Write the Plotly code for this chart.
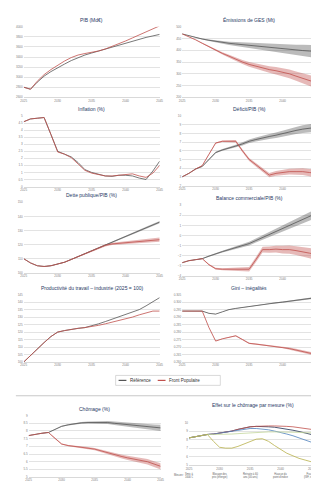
import plotly.graph_objects as go

# ---------------- data ----------------
years = list(range(2025, 2046))
year_ticks = [2025, 2030, 2035, 2040, 2045]

pib_ref = [2800, 2760, 2900, 3020, 3110, 3190, 3260, 3330, 3390, 3440, 3480, 3520, 3560, 3600, 3640, 3680, 3720, 3750, 3790, 3820, 3850]
pib_fp = [2800, 2760, 2920, 3050, 3150, 3240, 3320, 3390, 3440, 3470, 3490, 3520, 3560, 3610, 3660, 3720, 3780, 3840, 3900, 3960, 4020]

ges_ref = [470, 462, 455, 448, 443, 438, 434, 430, 427, 424, 421, 418, 415, 412, 409, 406, 404, 401, 399, 397, 395]
ges_fp = [470, 458, 445, 430, 415, 400, 387, 375, 362, 350, 340, 332, 325, 318, 313, 308, 300, 290, 280, 270, 262]

infl_ref = [4.6, 4.8, 4.85, 4.9, 3.7, 2.5, 2.3, 2.1, 1.7, 1.2, 1.0, 0.85, 0.75, 0.72, 0.8, 0.8, 0.75, 0.6, 0.5, 1.1, 1.8]
infl_fp = [4.6, 4.8, 4.85, 4.9, 3.7, 2.45, 2.3, 2.05, 1.6, 1.15, 0.95, 0.85, 0.75, 0.75, 0.8, 0.9, 0.9, 0.75, 0.65, 0.95, 1.5]

def_ref = [3.0, 3.4, 3.9, 4.2, 5.0, 5.8, 6.1, 6.3, 6.55, 6.8, 7.1, 7.3, 7.5, 7.65, 7.8, 8.0, 8.2, 8.35, 8.5, 8.6, 8.7]
def_fp = [3.0, 3.4, 3.9, 4.3, 5.6, 6.9, 7.1, 7.1, 7.1, 6.0, 5.0, 4.4, 3.8, 3.2, 3.4, 3.5, 3.6, 3.6, 3.6, 3.5, 3.4]

dette_ref = [110, 107, 105, 104.5, 105, 106, 107.5, 109.5, 111.5, 113.5, 115.5, 118, 120, 122, 124, 126, 128, 130, 132, 134, 136]
dette_fp = [110, 107, 105, 104.5, 105, 106, 107.5, 109.5, 111.5, 113.5, 115.5, 117.5, 119.5, 120.5, 121, 121.5, 122, 122.5, 123, 123.5, 123.5]

bal_ref = [-2.7, -2.5, -2.4, -2.3, -2.05, -1.8, -1.6, -1.4, -1.2, -1.0, -0.8, -0.5, -0.2, 0.1, 0.4, 0.7, 1.0, 1.3, 1.6, 1.9, 2.2]
bal_fp = [-2.7, -2.5, -2.4, -2.3, -2.9, -3.3, -3.35, -3.35, -3.35, -3.35, -3.35, -2.4, -1.4, -1.4, -1.35, -1.4, -1.4, -1.5, -1.6, -1.75, -1.9]

prod_ref = [100, 104.5, 109, 113, 117, 120, 121, 122, 122.5, 123, 124, 125.5, 127, 128.5, 130, 131.5, 133, 135, 137.5, 140, 143]
prod_fp = [100, 104.5, 109, 113, 117, 120, 121, 122, 122.5, 123, 123.5, 124.5, 125.5, 126.5, 127.5, 128.5, 130, 131.5, 133, 134, 134]

gini_ref = [0.294, 0.294, 0.294, 0.294, 0.2925, 0.292, 0.2935, 0.295, 0.2958, 0.2965, 0.297, 0.2978, 0.2985, 0.299, 0.2995, 0.300, 0.3006, 0.3012, 0.3018, 0.3024, 0.303]
gini_fp = [0.294, 0.294, 0.294, 0.294, 0.283, 0.274, 0.2755, 0.2767, 0.2775, 0.275, 0.2725, 0.272, 0.2715, 0.271, 0.2705, 0.270, 0.269, 0.268, 0.267, 0.266, 0.265]

chom_ref = [7.7, 7.8, 7.85, 7.9, 8.1, 8.3, 8.4, 8.48, 8.53, 8.55, 8.56, 8.56, 8.55, 8.5, 8.45, 8.4, 8.35, 8.3, 8.27, 8.23, 8.2]
chom_fp = [7.7, 7.8, 7.85, 7.9, 7.5, 7.15, 7.05, 6.98, 6.92, 6.88, 6.82, 6.7, 6.55, 6.45, 6.35, 6.25, 6.18, 6.1, 6.0, 5.85, 5.7]

# uncertainty band profile (share of final half-width)
band_profile = [0, 0.02, 0.05, 0.08, 0.12, 0.16, 0.2, 0.25, 0.3, 0.35, 0.4, 0.45, 0.5, 0.56, 0.62, 0.68, 0.74, 0.8, 0.87, 0.93, 1.0]

# effect by measure
eff_smic = [8.2, 8.35, 8.5, 8.6, 8.65, 8.75, 8.85, 9.0, 9.2, 9.35, 9.5, 9.55, 9.55, 9.5, 9.45, 9.35, 9.25, 9.1, 8.95, 8.8, 8.6]
eff_blocage = [8.2, 8.35, 8.5, 8.6, 8.65, 8.75, 8.85, 9.0, 9.2, 9.35, 9.5, 9.55, 9.6, 9.6, 9.6, 9.6, 9.55, 9.5, 9.4, 9.3, 9.2]
eff_retraite = [8.2, 8.35, 8.5, 8.6, 8.65, 8.75, 8.85, 8.95, 9.1, 9.2, 9.3, 9.3, 9.25, 9.15, 9.0, 8.85, 8.65, 8.45, 8.2, 7.95, 7.7]
eff_salaires = [8.2, 8.35, 8.5, 8.6, 8.6, 8.6, 8.6, 8.65, 8.7, 8.75, 8.8, 8.85, 8.85, 8.9, 8.9, 8.9, 8.9, 8.85, 8.85, 8.8, 8.8]
eff_fiscal = [8.2, 8.35, 8.5, 8.6, 7.8, 7.1, 7.0, 7.0, 7.2, 7.5, 7.8, 8.05, 8.1, 7.8, 7.3, 6.8, 6.4, 6.1, 5.8, 5.6, 5.4]
measure_labels = ["Smic à<br>1600 €", "Blocage des<br>prix (énergie)", "Retraite à 60<br>ans (40 ans)", "Hausse du<br>point d'indice", "Fiscalité<br>(ISF, impôts)"]

series_names = ["Référence", "Front Populaire"]

# ---------------- styling ----------------
W, H = 319, 481
FONT = "Liberation Sans"
REF_LINE = "#555555"
REF_FILL = "rgba(85,85,85,0.40)"
FP_LINE = "#c0504d"
FP_FILL = "rgba(192,80,77,0.40)"
TITLE_COLOR = "#1f3864"
TICK = dict(size=3, color="#808080", family=FONT)

panels = [
    dict(title="PIB (Md€)", ref=pib_ref, fp=pib_fp, rs=0, fs=0, yr=[2600, 4000], dt=200, x=(13, 152), y=(17, 88)),
    dict(title="Émissions de GES (Mt)", ref=ges_ref, fp=ges_fp, rs=28, fs=25, yr=[200, 500], dt=50, x=(175, 312), y=(17, 88)),
    dict(title="Inflation (%)", ref=infl_ref, fp=infl_fp, rs=0, fs=0, yr=[0, 5], dt=0.5, x=(13, 152), y=(107, 178)),
    dict(title="Déficit/PIB (%)", ref=def_ref, fp=def_fp, rs=0.5, fs=0.45, yr=[2, 10], dt=1, x=(175, 312), y=(107, 177)),
    dict(title="Dette publique/PIB (%)", ref=dette_ref, fp=dette_fp, rs=0.8, fs=1.5, yr=[100, 150], dt=10, x=(13, 152), y=(194, 265)),
    dict(title="Balance commerciale/PIB (%)", ref=bal_ref, fp=bal_fp, rs=0.45, fs=0.55, yr=[-4, 3], dt=1, x=(175, 312), y=(197, 268)),
    dict(title="Productivité du travail – industrie (2025 = 100)", ref=prod_ref, fp=prod_fp, rs=0, fs=0, yr=[100, 145], dt=5, x=(13, 152), y=(287, 355)),
    dict(title="Gini – inégalités", ref=gini_ref, fp=gini_fp, rs=0.0006, fs=0.001, yr=[0.26, 0.305], dt=0.005, x=(175, 312), y=(287, 355)),
    dict(title="Chômage (%)", ref=chom_ref, fp=chom_fp, rs=0.2, fs=0.2, yr=[5, 9], dt=0.5, x=(18, 153), y=(409, 471)),
]

fig = go.Figure()
layout = dict(
    width=W, height=H, margin=dict(l=0, r=0, t=0, b=0),
    paper_bgcolor="white", plot_bgcolor="white",
    font=dict(family=FONT, size=4, color="#404040"),
    annotations=[], shapes=[], showlegend=False,
)


def ax_names(i):
    return ("x" if i == 1 else f"x{i}", "y" if i == 1 else f"y{i}",
            "xaxis" if i == 1 else f"xaxis{i}", "yaxis" if i == 1 else f"yaxis{i}")


def add_axes(i, xpx, ypx, yr, dt, tickfmt=None):
    xa, ya, xk, yk = ax_names(i)
    layout[xk] = dict(domain=[xpx[0] / W, xpx[1] / W], anchor=ya, range=[2025, 2045],
                      tickvals=year_ticks, tickfont=TICK, showgrid=False, zeroline=False,
                      showline=True, linecolor="#d9d9d9", linewidth=0.5, ticks="", fixedrange=True)
    ydict = dict(domain=[1 - ypx[1] / H, 1 - ypx[0] / H], anchor=xa, range=yr,
                 tick0=yr[0], dtick=dt, tickfont=TICK, showgrid=True, gridcolor="#e3e3e3",
                 gridwidth=0.5, zeroline=False, showline=False, ticks="", fixedrange=True)
    if tickfmt:
        ydict["tickformat"] = tickfmt
    layout[yk] = ydict
    return xa, ya


def add_band(xa, ya, vals, spread, fill):
    lo = [v - spread * p for v, p in zip(vals, band_profile)]
    hi = [v + spread * p for v, p in zip(vals, band_profile)]
    fig.add_trace(go.Scatter(x=years, y=lo, xaxis=xa, yaxis=ya, mode="lines",
                             line=dict(width=0), hoverinfo="skip"))
    fig.add_trace(go.Scatter(x=years, y=hi, xaxis=xa, yaxis=ya, mode="lines", fill="tonexty",
                             fillcolor=fill, line=dict(width=0), hoverinfo="skip"))


for i, p in enumerate(panels, start=1):
    xa, ya = add_axes(i, p["x"], p["y"], p["yr"], p["dt"], ".3f" if p["dt"] < 0.01 else None)
    if p["rs"]:
        add_band(xa, ya, p["ref"], p["rs"], REF_FILL)
    if p["fs"]:
        add_band(xa, ya, p["fp"], p["fs"], FP_FILL)
    fig.add_trace(go.Scatter(x=years, y=p["ref"], xaxis=xa, yaxis=ya, mode="lines",
                             line=dict(color=REF_LINE, width=0.8), name=series_names[0]))
    fig.add_trace(go.Scatter(x=years, y=p["fp"], xaxis=xa, yaxis=ya, mode="lines",
                             line=dict(color=FP_LINE, width=0.8), name=series_names[1]))
    layout["annotations"].append(dict(
        text=p["title"], xref="paper", yref="paper",
        x=(p["x"][0] + p["x"][1]) / 2 / W, y=1 - (p["y"][0] - 2) / H,
        xanchor="center", yanchor="bottom", showarrow=False,
        font=dict(size=5, color=TITLE_COLOR, family=FONT)))

# effect-by-measure panel
i = len(panels) + 1
xa, ya = add_axes(i, (182, 307), (416, 459), [5, 10], 1)
effects = [
    (eff_smic, "#1f2d4f"),
    (eff_blocage, "#c0504d"),
    (eff_retraite, "#4f81bd"),
    (eff_salaires, "#c3d69b"),
    (eff_fiscal, "#b8b04a"),
]
for vals, col in effects:
    fig.add_trace(go.Scatter(x=years, y=vals, xaxis=xa, yaxis=ya, mode="lines",
                             line=dict(color=col, width=0.8)))
layout["annotations"].append(dict(
    text="Effet sur le chômage par mesure (%)", xref="paper", yref="paper",
    x=247 / W, y=1 - 403 / H, xanchor="center", yanchor="bottom", showarrow=False,
    font=dict(size=5, color=TITLE_COLOR, family=FONT)))
layout["annotations"].append(dict(
    text="Mesure :", xref="paper", yref="paper", x=172 / W, y=1 - 469 / H,
    xanchor="center", yanchor="middle", showarrow=False, font=dict(size=2.6, color="#606060")))
for yr_, lab in zip(year_ticks, measure_labels):
    layout["annotations"].append(dict(
        text=lab, xref=xa, yref="paper", x=yr_, y=1 - 464 / H,
        xanchor="center", yanchor="top", showarrow=False,
        font=dict(size=2.6, color="#606060")))

# manual legend (short line samples as in the reference)
LEG_Y = 1 - 373.5 / H
layout["shapes"] += [
    dict(type="rect", xref="paper", yref="paper", x0=107 / W, x1=214 / W,
         y0=1 - 378.5 / H, y1=1 - 368.5 / H, line=dict(color="#bfbfbf", width=0.6), fillcolor="white"),
    dict(type="line", xref="paper", yref="paper", x0=110 / W, x1=118 / W, y0=LEG_Y, y1=LEG_Y,
         line=dict(color=REF_LINE, width=1.2)),
    dict(type="line", xref="paper", yref="paper", x0=150 / W, x1=158 / W, y0=LEG_Y, y1=LEG_Y,
         line=dict(color=FP_LINE, width=1.2)),
]
layout["annotations"] += [
    dict(text=series_names[0], xref="paper", yref="paper", x=120 / W, y=LEG_Y,
         xanchor="left", yanchor="middle", showarrow=False, font=dict(size=4.5, color="#303030")),
    dict(text=series_names[1], xref="paper", yref="paper", x=160 / W, y=LEG_Y,
         xanchor="left", yanchor="middle", showarrow=False, font=dict(size=4.5, color="#303030")),
]

# separator line
layout["shapes"].append(dict(type="line", xref="paper", yref="paper",
                             x0=5 / W, x1=316 / W, y0=1 - 389 / H, y1=1 - 389 / H,
                             line=dict(color="#c8c8c8", width=1)))

fig.update_layout(**layout)
fig.write_html("out.html")
